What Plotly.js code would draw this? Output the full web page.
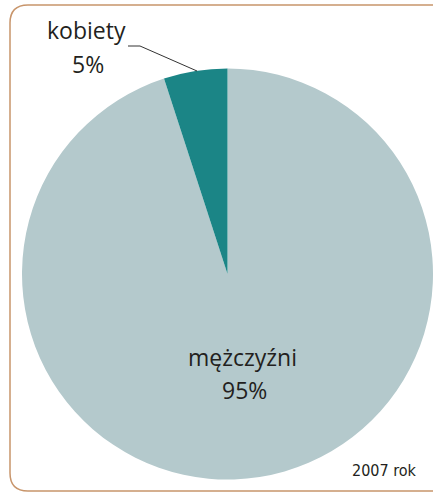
<!DOCTYPE html>
<html><head><meta charset="utf-8">
<script src="https://cdn.plot.ly/plotly-3.0.1.min.js"></script>
<style>html,body{margin:0;padding:0;background:#fff}#chart{width:433px;height:492px}</style>
</head><body><div id="chart"></div>
<script>
const categories = ["mężczyźni", "kobiety"];
const shares = [95, 5];
const sliceColors = ["#b4c9cc", "#1b8586"];
const yearLabel = "2007 rok";

const W = 433, H = 492;
const px = x => x / W, py = y => 1 - y / H;

// rounded frame path in paper coords
function framePath(x0, y0, x1, y1, r) {
  return `M ${px(x0+r)} ${py(y0)} L ${px(x1)} ${py(y0)} ` +
         `M ${px(x0+r)} ${py(y0)} Q ${px(x0)} ${py(y0)} ${px(x0)} ${py(y0+r)} ` +
         `L ${px(x0)} ${py(y1-r)} Q ${px(x0)} ${py(y1)} ${px(x0+r)} ${py(y1)} L ${px(x1)} ${py(y1)}`;
}

const font = "Open Sans, Noto Sans, sans-serif";
const trace = {
  type: "pie",
  labels: categories,
  values: shares,
  marker: {colors: sliceColors, line: {width: 0}},
  sort: false,
  direction: "clockwise",
  rotation: 0,
  textinfo: "none",
  hoverinfo: "label+percent",
  showlegend: false,
  domain: {x: [px(22), 1], y: [py(480), py(68)]}
};

const layout = {
  width: W, height: H,
  margin: {l: 0, r: 0, t: 0, b: 0},
  paper_bgcolor: "#ffffff",
  showlegend: false,
  shapes: [
    {type: "path", xref: "paper", yref: "paper", path: framePath(10, 5, 440, 491, 18),
     line: {color: "#c8956b", width: 1.5}, fillcolor: "rgba(0,0,0,0)"},
    {type: "path", xref: "paper", yref: "paper",
     path: `M ${px(128)} ${py(46)} L ${px(140)} ${py(46)} L ${px(197)} ${py(71)}`,
     line: {color: "#333333", width: 1}}
  ],
  annotations: [
    {xref: "paper", yref: "paper", x: px(86), y: py(30), text: categories[1], showarrow: false,
     font: {family: font, size: 23, color: "#231f20"}, xanchor: "center", yanchor: "middle"},
    {xref: "paper", yref: "paper", x: px(88), y: py(64), text: shares[1] + "%", showarrow: false,
     font: {family: font, size: 23, color: "#231f20"}, xanchor: "center", yanchor: "middle"},
    {xref: "paper", yref: "paper", x: px(242), y: py(357), text: categories[0], showarrow: false,
     font: {family: font, size: 23, color: "#231f20"}, xanchor: "center", yanchor: "middle"},
    {xref: "paper", yref: "paper", x: px(244), y: py(390), text: shares[0] + "%", showarrow: false,
     font: {family: font, size: 23, color: "#231f20"}, xanchor: "center", yanchor: "middle"},
    {xref: "paper", yref: "paper", x: px(384), y: py(470), text: yearLabel, showarrow: false,
     font: {family: "Liberation Sans Narrow, DejaVu Sans Condensed, sans-serif", size: 16, color: "#231f20"},
     xanchor: "center", yanchor: "middle"}
  ]
};

Plotly.newPlot("chart", [trace], layout, {displayModeBar: false, staticPlot: true});
</script></body></html>
